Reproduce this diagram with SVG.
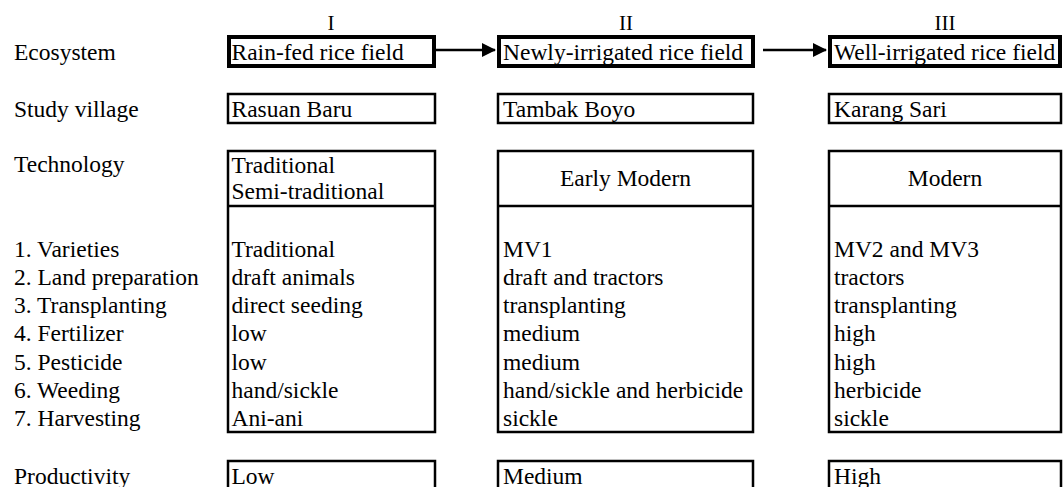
<svg xmlns="http://www.w3.org/2000/svg" width="1064" height="487" viewBox="0 0 1064 487">
<style>
text{font-family:"Liberation Serif","Times New Roman",serif;font-size:23.5px;fill:#000}
.c{text-anchor:middle}
.num{font-size:21px}
.thick{fill:#fff;stroke:#000;stroke-width:4}
.thin{fill:#fff;stroke:#000;stroke-width:2.5}
.div{stroke:#000;stroke-width:2.5}
.conn{stroke:#000;stroke-width:2.5;fill:none}
</style>
<defs>
<marker id="ah" markerWidth="14" markerHeight="14" refX="13" refY="7" orient="auto" markerUnits="userSpaceOnUse">
<path d="M0,0 L14,7 L0,14 Z" fill="#000"/>
</marker>
</defs>
<rect width="1064" height="487" fill="#fff"/>
<g id="row-labels">
<text x="14" y="60">Ecosystem</text>
<text x="14" y="117">Study village</text>
<text x="14" y="172">Technology</text>
<text x="14" y="257">1. Varieties</text>
<text x="14" y="285">2. Land preparation</text>
<text x="14" y="313">3. Transplanting</text>
<text x="14" y="341">4. Fertilizer</text>
<text x="14" y="370">5. Pesticide</text>
<text x="14" y="398">6. Weeding</text>
<text x="14" y="426">7. Harvesting</text>
<text x="14" y="484">Productivity</text>
</g>
<g id="stage-labels">
<text class="c num" x="331" y="30">I</text>
<text class="c num" x="626" y="30">II</text>
<text class="c num" x="945" y="30">III</text>
</g>
<g id="eco-1"><rect class="thick" x="229" y="37" width="205" height="29"/><text x="231.5" y="60">Rain-fed rice field</text></g>
<g id="eco-2"><rect class="thick" x="499" y="37" width="254" height="29"/><text x="503" y="60">Newly-irrigated rice field</text></g>
<g id="eco-3"><rect class="thick" x="830" y="37" width="230" height="29"/><text x="834" y="60">Well-irrigated rice field</text></g>
<g id="village-1"><rect class="thin" x="228" y="94" width="207" height="29"/><text x="231.5" y="117">Rasuan Baru</text></g>
<g id="village-2"><rect class="thin" x="498" y="94" width="255" height="29"/><text x="503" y="117">Tambak Boyo</text></g>
<g id="village-3"><rect class="thin" x="829" y="94" width="232" height="29"/><text x="834" y="117">Karang Sari</text></g>
<g id="tech-1">
<rect class="thin" x="228" y="151" width="207" height="281"/><line class="div" x1="228" y1="206" x2="435" y2="206"/>
<text x="231.5" y="173">Traditional</text><text x="231.5" y="199">Semi-traditional</text>
<text x="231.5" y="257">Traditional</text><text x="231.5" y="285">draft animals</text><text x="231.5" y="313">direct seeding</text><text x="231.5" y="341">low</text><text x="231.5" y="370">low</text><text x="231.5" y="398">hand/sickle</text><text x="231.5" y="426">Ani-ani</text>
</g>
<g id="tech-2">
<rect class="thin" x="498" y="151" width="255" height="281"/><line class="div" x1="498" y1="206" x2="753" y2="206"/>
<text class="c" x="625.5" y="186">Early Modern</text>
<text x="503" y="257">MV1</text><text x="503" y="285">draft and tractors</text><text x="503" y="313">transplanting</text><text x="503" y="341">medium</text><text x="503" y="370">medium</text><text x="503" y="398">hand/sickle and herbicide</text><text x="503" y="426">sickle</text>
</g>
<g id="tech-3">
<rect class="thin" x="829" y="151" width="232" height="281"/><line class="div" x1="829" y1="206" x2="1061" y2="206"/>
<text class="c" x="945" y="186">Modern</text>
<text x="834" y="257">MV2 and MV3</text><text x="834" y="285">tractors</text><text x="834" y="313">transplanting</text><text x="834" y="341">high</text><text x="834" y="370">high</text><text x="834" y="398">herbicide</text><text x="834" y="426">sickle</text>
</g>
<g id="prod-1"><rect class="thin" x="228" y="461" width="207" height="30"/><text x="231.5" y="484">Low</text></g>
<g id="prod-2"><rect class="thin" x="498" y="461" width="255" height="30"/><text x="503" y="484">Medium</text></g>
<g id="prod-3"><rect class="thin" x="829" y="461" width="232" height="30"/><text x="834" y="484">High</text></g>
<g id="connectors">
<line class="conn" x1="436" y1="50" x2="495" y2="50" marker-end="url(#ah)"/>
<line class="conn" x1="763" y1="50" x2="826" y2="50" marker-end="url(#ah)"/>
</g>
</svg>
